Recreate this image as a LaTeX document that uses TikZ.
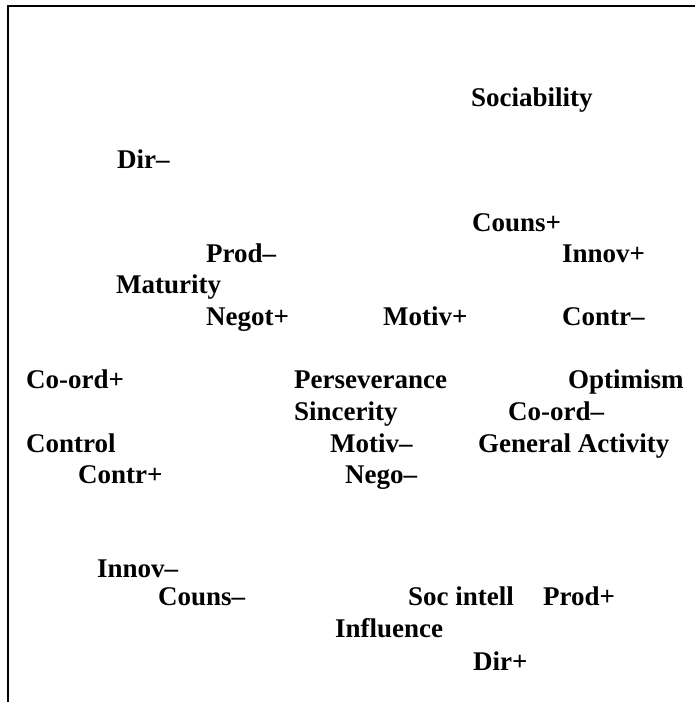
\documentclass[tikz,border=0pt]{standalone}
\usepackage{fontspec}
\setmainfont{Liberation Serif}
\begin{document}
\begin{tikzpicture}[x=1pt,y=-1pt,
  lbl/.style={anchor=base west,inner sep=0pt,font=\fontsize{27}{30}\selectfont\bfseries},
  frame/.style={line width=2pt,line cap=rect}]
\useasboundingbox (0,0) rectangle (694,702);
% open frame: top and left edges only
\coordinate (tl) at (8,6);
\coordinate (tr) at (694,6);
\coordinate (bl) at (8,702);
\draw[frame] (tr) -- (tl) -- (bl);
% factor labels
\node[lbl] (soc)    at (471,106) {Sociability};
\node[lbl] (dirm)   at (117,168) {Dir–};
\node[lbl] (counsp) at (472,231) {Couns+};
\node[lbl] (prodm)  at (206,262) {Prod–};
\node[lbl] (innovp) at (562,262) {Innov+};
\node[lbl] (mat)    at (116,293) {Maturity};
\node[lbl] (negp)   at (206,325) {Negot+};
\node[lbl] (motp)   at (383,325) {Motiv+};
\node[lbl] (contrm) at (562,325) {Contr–};
\node[lbl] (coordp) at (26,388) {Co-ord+};
\node[lbl] (pers)   at (294,388) {Perseverance};
\node[lbl] (opt)    at (568,388) {Optimism};
\node[lbl] (sinc)   at (294,420) {Sincerity};
\node[lbl] (coordm) at (508,420) {Co-ord–};
\node[lbl] (ctrl)   at (26,452) {Control};
\node[lbl] (motm)   at (330,452) {Motiv–};
\node[lbl] (gen)    at (478,452) {General Activity};
\node[lbl] (contrp) at (78,483) {Contr+};
\node[lbl] (negm)   at (345,483) {Nego–};
\node[lbl] (innovm) at (97,577) {Innov–};
\node[lbl] (counsm) at (158,605) {Couns–};
\node[lbl] (socint) at (408,605) {Soc intell};
\node[lbl] (prodp)  at (543,605) {Prod+};
\node[lbl] (infl)   at (335,637) {Influence};
\node[lbl] (dirp)   at (473,670) {Dir+};
\end{tikzpicture}
\end{document}
